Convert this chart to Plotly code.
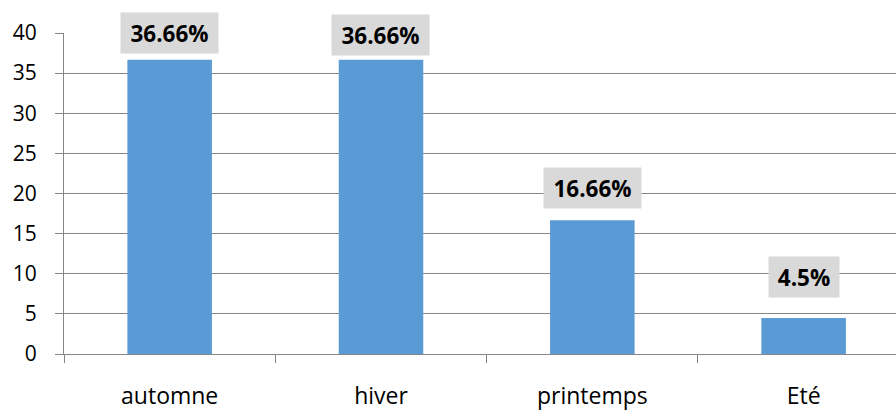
import plotly.graph_objects as go

categories = ["automne", "hiver", "printemps", "Eté"]
values = [36.66, 36.66, 16.66, 4.5]
labels = ["36.66%", "36.66%", "16.66%", "4.5%"]
y_ticks = [0, 5, 10, 15, 20, 25, 30, 35, 40]

# style: gap (px) between bar top and label box, as in the reference
label_gap = [6, 4, 11, 20]

BAR = "#5B9BD5"
GRID = "#868686"
FONT = "Open Sans"

fig = go.Figure()
fig.add_trace(go.Bar(
    x=categories, y=values,
    marker=dict(color=BAR, line=dict(width=0)),
    width=0.4,
    hoverinfo="skip",
))

for c, v, t, g in zip(categories, values, labels, label_gap):
    fig.add_annotation(
        x=c, y=v, xref="x", yref="y",
        text="<b>" + t + "</b>",
        showarrow=False,
        yanchor="bottom", xanchor="center",
        yshift=g,
        bgcolor="#D9D9D9",
        borderpad=5,
        width=13.5 * len(t) + 6,
        height=30,
        font=dict(family=FONT, size=22.5, color="#000000"),
    )

fig.update_layout(
    width=896, height=410,
    margin=dict(l=64, r=0, t=33, b=56),
    paper_bgcolor="white", plot_bgcolor="white",
    showlegend=False,
    font=dict(family=FONT, color="#000000"),
)
fig.update_xaxes(
    type="category",
    range=[-0.5, 3.437],
    tickson="boundaries",
    ticks="outside", ticklen=8, tickcolor=GRID, tickwidth=1,
    showline=True, linecolor=GRID, linewidth=1,
    showgrid=False,
    tickfont=dict(family=FONT, size=23, color="#000000"),
    ticklabelstandoff=21,
)
fig.update_yaxes(
    range=[0, 40],
    tickvals=y_ticks,
    ticks="outside", ticklen=8, tickcolor=GRID, tickwidth=1,
    showline=True, linecolor=GRID, linewidth=1,
    showgrid=True, gridcolor=GRID, gridwidth=1,
    zeroline=False,
    tickfont=dict(family=FONT, size=21, color="#000000"),
    ticklabelstandoff=14,
)

fig.write_html("out.html")
